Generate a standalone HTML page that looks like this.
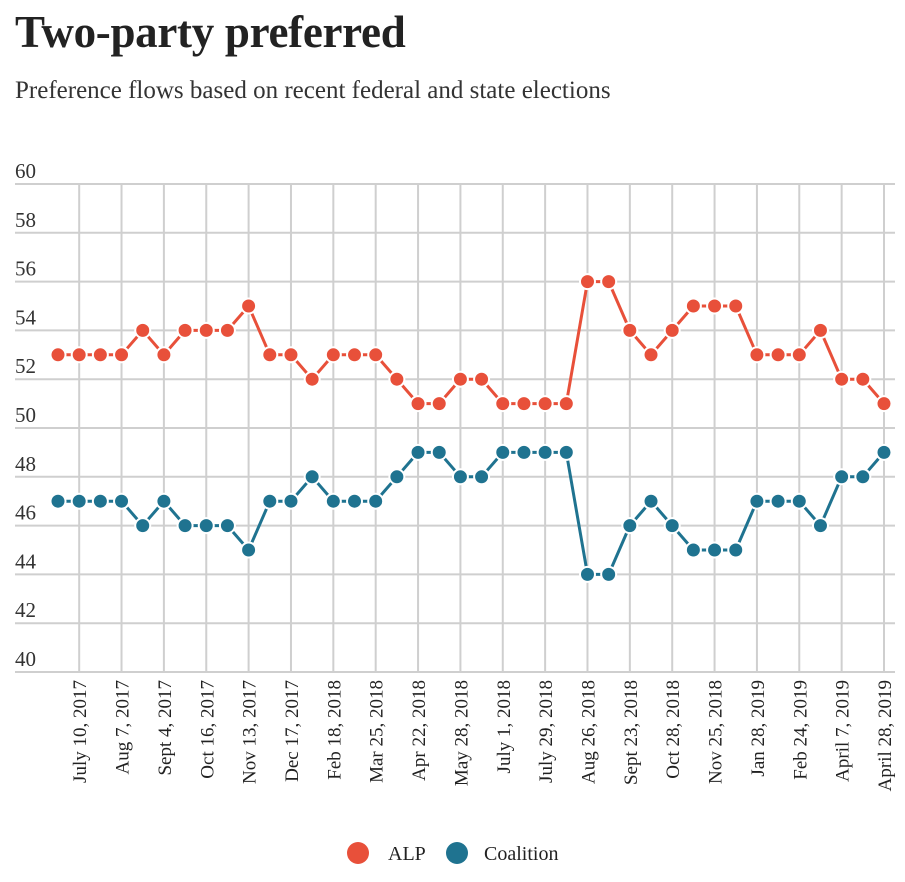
<!DOCTYPE html>
<html><head><meta charset="utf-8"><style>
body{margin:0;background:#fff;width:905px;height:882px;overflow:hidden;font-family:"Liberation Serif",serif;}
h1{position:absolute;left:15px;top:6px;margin:0;font-size:45px;font-weight:bold;color:#222;letter-spacing:-0.3px}
.sub{position:absolute;left:15px;top:77px;font-size:25px;color:#333}
svg{position:absolute;left:0;top:0}
</style></head><body>
<h1>Two-party preferred</h1>
<div class="sub">Preference flows based on recent federal and state elections</div>
<svg id="c" width="905" height="882"></svg>
<script>
const dateLabels=["","July 10, 2017","","Aug 7, 2017","","Sept 4, 2017","","Oct 16, 2017","","Nov 13, 2017","","Dec 17, 2017","","Feb 18, 2018","","Mar 25, 2018","","Apr 22, 2018","","May 28, 2018","","July 1, 2018","","July 29, 2018","","Aug 26, 2018","","Sept 23, 2018","","Oct 28, 2018","","Nov 25, 2018","","Jan 28, 2019","","Feb 24, 2019","","April 7, 2019","","April 28, 2019"];
const alp=[53,53,53,53,54,53,54,54,54,55,53,53,52,53,53,53,52,51,51,52,52,51,51,51,51,56,56,54,53,54,55,55,55,53,53,53,54,52,52,51];
const coalition=[47,47,47,47,46,47,46,46,46,45,47,47,48,47,47,47,48,49,49,48,48,49,49,49,49,44,44,46,47,46,45,45,45,47,47,47,46,48,48,49];
const yTicks=[40,42,44,46,48,50,52,54,56,58,60];
const NS="http://www.w3.org/2000/svg";
const svg=document.getElementById('c');
const x=i=>58+i*(884-58)/(alp.length-1);
const y=v=>672-(v-40)*(672-184)/20;
function mk(t,a){const e=document.createElementNS(NS,t);for(const k in a)e.setAttribute(k,a[k]);svg.appendChild(e);return e;}
yTicks.forEach(v=>{
  const l=mk('line',{x1:15,x2:895,y1:y(v),y2:y(v),stroke:'#cfcfcf','stroke-width':2});
  
  
  const t=mk('text',{x:15,y:y(v)-6,'font-size':21,fill:'#333','font-family':'Liberation Serif, serif'});
  t.textContent=v;
  
  
});
dateLabels.forEach((d,i)=>{
  if(!d)return;
  const l=mk('line',{x1:x(i),x2:x(i),y1:184,y2:672,stroke:'#cfcfcf','stroke-width':2});
  
  
  const t=mk('text',{transform:`translate(${x(i)+7},680) rotate(-90)`,'text-anchor':'end','font-size':19,fill:'#222','font-family':'Liberation Serif, serif'});
  t.textContent=d;
  
  
});
function series(vals,col,name){
  const p=mk('polyline',{points:vals.map((v,i)=>x(i)+','+y(v)).join(' '),fill:'none',stroke:col,'stroke-width':3});
  
  
  vals.forEach((v,i)=>{
    const c=mk('circle',{cx:x(i),cy:y(v),r:7.5,fill:col,stroke:'#fff','stroke-width':2});
    
    
  });
}
series(alp,'#e8503a','alp');
series(coalition,'#1f7390','coalition');
[['ALP','#e8503a',358,388],['Coalition','#1f7390',457,484]].forEach(([n,col,cx,tx])=>{
  const c=mk('circle',{cx:cx,cy:853,r:11,fill:col});
  
  
  const t=mk('text',{x:tx,y:860,'font-size':20,fill:'#222','font-family':'Liberation Serif, serif'});
  t.textContent=n;
  
  
});
</script>
</body></html>
